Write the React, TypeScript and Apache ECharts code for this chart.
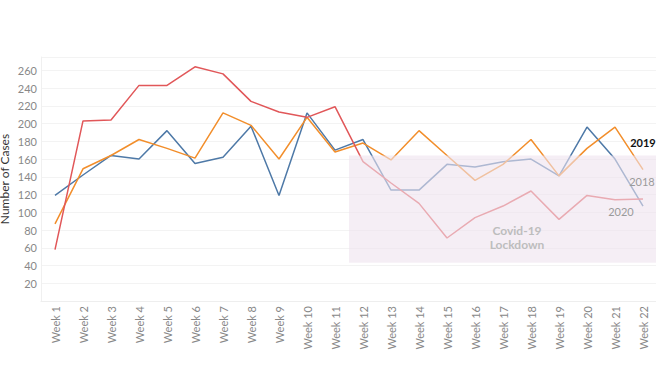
import React, { useEffect, useRef } from "react";
import * as echarts from "echarts";

const weeks = [
  "Week 1", "Week 2", "Week 3", "Week 4", "Week 5", "Week 6", "Week 7", "Week 8",
  "Week 9", "Week 10", "Week 11", "Week 12", "Week 13", "Week 14", "Week 15",
  "Week 16", "Week 17", "Week 18", "Week 19", "Week 20", "Week 21", "Week 22",
];
const cases2018 = [119, 142, 164, 160, 192, 155, 162, 197, 119, 212, 170, 182, 125, 125, 154, 151, 157, 160, 141, 196, 160, 107];
const cases2019 = [87, 149, 164, 182, 172, 161, 212, 198, 160, 207, 168, 178, 159, 192, 164, 136, 154, 182, 141, 172, 196, 148];
const cases2020 = [58, 203, 204, 243, 243, 264, 256, 225, 213, 207, 219, 157, 133, 110, 71, 94, 107, 124, 92, 119, 114, 115];
// lockdown area: from the boundary between week 11 and 12 to the end, cases 43..164
const lockdownWeeks = [11.5, 22.5];
const lockdownCases = [43, 164];

const FONT = "Lato, 'Open Sans', sans-serif";

export default function App() {
  const ref = useRef<HTMLDivElement>(null);
  useEffect(() => {
    document.body.style.margin = "0";
    const chart = echarts.init(ref.current!, null, { renderer: "svg" });
    const line = (name: string, data: number[], color: string) => ({
      name,
      type: "line",
      data,
      symbol: "none",
      z: 2,
      lineStyle: { color, width: 1.5 },
      itemStyle: { color },
    });
    chart.setOption({
      animation: false,
      textStyle: { fontFamily: FONT },
      grid: { left: 41, right: -1, top: 57, bottom: 75, containLabel: false, outerBoundsMode: "none" },
      xAxis: [
        {
          type: "category",
          data: weeks,
          boundaryGap: true,
          axisLine: { show: true, lineStyle: { color: "#eeeeee" } },
          axisTick: { show: false },
          axisLabel: {
            rotate: 90,
            color: "#888888",
            fontSize: 11,
            fontFamily: FONT,
            margin: 5,
          },
        },
        { type: "value", min: 0.5, max: 22.5, show: false },
      ],
      yAxis: {
        type: "value",
        min: 0,
        max: 275,
        interval: 20,
        name: "Number of Cases",
        nameLocation: "middle",
        nameGap: 31,
        nameMoveOverlap: false,
        nameTextStyle: { color: "#333333", fontSize: 12, fontFamily: FONT },
        axisLine: { show: true, lineStyle: { color: "#f0f0f0" } },
        axisTick: { show: false },
        axisLabel: {
          color: "#888888",
          fontSize: 11,
          fontFamily: FONT,
          margin: 4,
          showMinLabel: false,
          showMaxLabel: false,
        },
        splitLine: { show: true, lineStyle: { color: "#f3f3f3", width: 1 } },
      },
      series: [
        line("2018", cases2018, "#4e79a7"),
        line("2019", cases2019, "#f28e2b"),
        line("2020", cases2020, "#e15759"),
        {
          name: "lockdown",
          type: "line",
          xAxisIndex: 1,
          data: [],
          z: 5,
          markArea: {
            silent: true,
            z: 10,
            itemStyle: { color: "rgba(238,226,238,0.6)" },
            label: { show: false },
            data: [
              [
                { coord: [lockdownWeeks[0], lockdownCases[0]] },
                { coord: [lockdownWeeks[1], lockdownCases[1]] },
              ],
            ],
          },
        },
      ],
      graphic: [
        {
          type: "text",
          x: 643,
          y: 142,
          z: 20,
          style: {
            text: "2019",
            fill: "#111111",
            font: `bold 11px ${FONT}`,
            textAlign: "center",
            textVerticalAlign: "middle",
          },
        },
        {
          type: "text",
          x: 642,
          y: 181,
          z: 20,
          style: {
            text: "2018",
            fill: "#9a9a9a",
            font: `11px ${FONT}`,
            textAlign: "center",
            textVerticalAlign: "middle",
          },
        },
        {
          type: "text",
          x: 621,
          y: 211,
          z: 20,
          style: {
            text: "2020",
            fill: "#9a9a9a",
            font: `11px ${FONT}`,
            textAlign: "center",
            textVerticalAlign: "middle",
          },
        },
        {
          type: "text",
          x: 517,
          y: 230,
          z: 20,
          style: {
            text: "Covid-19",
            fill: "#bdbdbd",
            font: `bold 12px ${FONT}`,
            textAlign: "center",
            textVerticalAlign: "middle",
          },
        },
        {
          type: "text",
          x: 517,
          y: 244,
          z: 20,
          style: {
            text: "Lockdown",
            fill: "#bdbdbd",
            font: `bold 12px ${FONT}`,
            textAlign: "center",
            textVerticalAlign: "middle",
          },
        },
      ],
    });
    return () => chart.dispose();
  }, []);
  return (
    <div
      ref={ref}
      style={{ position: "absolute", left: 0, top: 0, width: 656, height: 376, background: "#ffffff" }}
    />
  );
}
